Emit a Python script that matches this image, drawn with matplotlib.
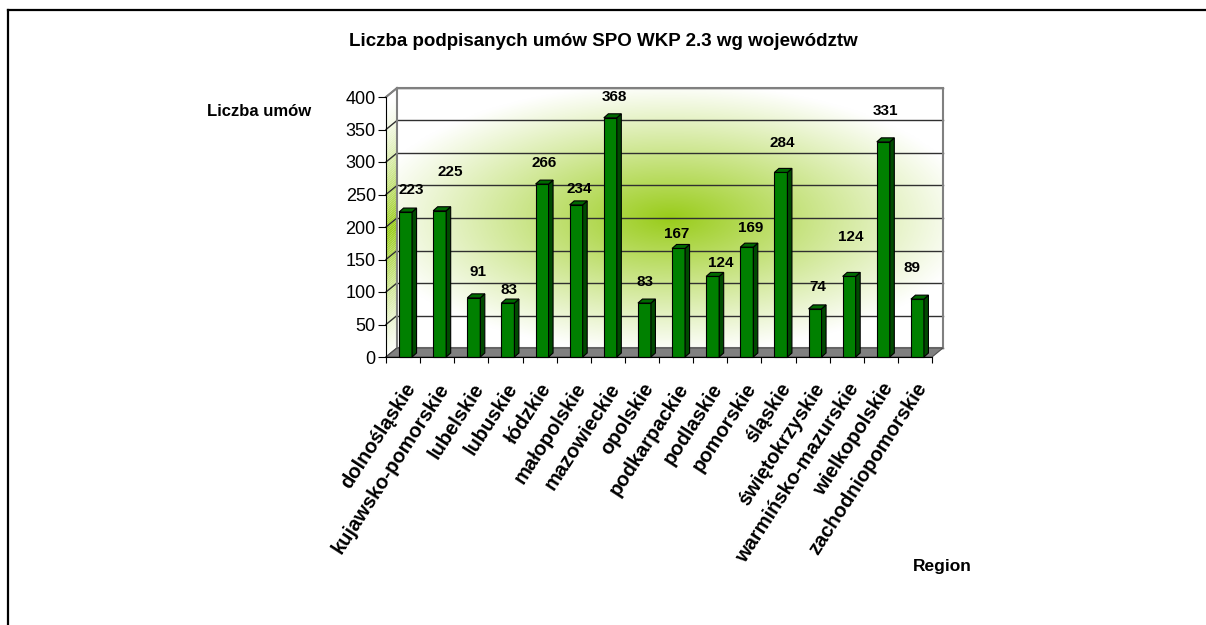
import matplotlib.pyplot as plt
import numpy as np
from matplotlib.patches import Polygon, Rectangle
from matplotlib.lines import Line2D

plt.rcParams['font.family'] = ['Liberation Sans', 'DejaVu Sans']

# data
regions = ["dolnośląskie", "kujawsko-pomorskie", "lubelskie", "lubuskie", "łódzkie",
           "małopolskie", "mazowieckie", "opolskie", "podkarpackie", "podlaskie",
           "pomorskie", "śląskie", "świętokrzyskie", "warmińsko-mazurskie",
           "wielkopolskie", "zachodniopomorskie"]
umowy = [223, 225, 91, 83, 266, 234, 368, 83, 167, 124, 169, 284, 74, 124, 331, 89]
y_ticks = [0, 50, 100, 150, 200, 250, 300, 350, 400]

title = "Liczba podpisanych umów SPO WKP 2.3 wg województw"
y_title = "Liczba umów"
x_title = "Region"

# value label placement (pixels, relative to bar top) - Excel staggers them
label_dx = [6, 11, 4, 1, 2, 3, 4, 1, -2, 8, 4, 1, 3, 2, 2, -5]
label_dy = [22, 39, 26, 13, 21, 16, 21, 21, 14, 13, 19, 29, 22, 39, 31, 31]

W, H = 1206, 625
fig = plt.figure(figsize=(W / 100, H / 100), dpi=100)

# front plane of the 3d box in pixels
left_px, right_px, top_px, bottom_px = 386, 932, 97, 357
ax = fig.add_axes([left_px / W, 1 - bottom_px / H,
                   (right_px - left_px) / W, (bottom_px - top_px) / H])
n = len(regions)
ymax = y_ticks[-1]
x0, x1 = -0.5, n - 0.5
cat_px = (right_px - left_px) / n
unit_px = (bottom_px - top_px) / ymax


def px(dx, dy):
    # pixel offset -> data offset
    return dx / cat_px, dy / unit_px


ddx, ddy = px(11, 9)        # depth of the box
sdx, sdy = px(4.5, 4)       # depth of a bar
bw = 13 / cat_px
shift = 2.5 / cat_px

green = np.array([0.60, 0.80, 0.10])

# back wall gradient
uu, vv = np.meshgrid(np.linspace(0, 1, 400), np.linspace(0, 1, 250))
d = np.sqrt(((uu - 0.5) / 0.56) ** 2 + ((vv - 0.5) / 0.52) ** 2)
t = np.clip(1 - d, 0, 1) ** 1.05
img = 1 - t[..., None] * (1 - green)
ax.imshow(img, extent=[x0 + ddx, x1 + ddx, ddy, ymax + ddy], origin='lower',
          aspect='auto', zorder=0, clip_on=False, interpolation='bilinear')

# left wall gradient, in strips
ys = np.linspace(0, ymax, 120)
for a, b in zip(ys[:-1], ys[1:]):
    tt = max(0, 1 - abs((a + b) / 2 - 190) / 200) ** 1.3
    col = 1 - tt * (1 - green)
    ax.add_patch(Polygon([(x0, a), (x0, b), (x0 + ddx, b + ddy), (x0 + ddx, a + ddy)],
                         fc=col, ec='none', zorder=0.5, clip_on=False))

# gridlines on walls
for v in y_ticks:
    ax.add_line(Line2D([x0 + ddx, x1 + ddx], [v + ddy, v + ddy], color='#303030',
                       lw=1, zorder=1, clip_on=False))
    ax.add_line(Line2D([x0, x0 + ddx], [v, v + ddy], color='#303030',
                       lw=1, zorder=1, clip_on=False))
ax.add_patch(Rectangle((x0 + ddx, ddy), x1 - x0, ymax, fc='none', ec='#808080',
                       lw=1.5, zorder=1.2, clip_on=False))
ax.add_line(Line2D([x0, x0 + ddx], [ymax, ymax + ddy], color='#808080', lw=1.5,
                   zorder=1.2, clip_on=False))

# floor
ax.add_patch(Polygon([(x0, 0), (x1, 0), (x1 + ddx, ddy), (x0 + ddx, ddy)],
                     fc='#808080', ec='#505050', lw=0.8, zorder=1.5, clip_on=False))

# bars
xs = np.arange(n) + shift
ax.bar(xs, umowy, width=bw, color='#008000', edgecolor='black', linewidth=0.8,
       zorder=3, clip_on=False)
for xc, v in zip(xs, umowy):
    xl, xr = xc - bw / 2, xc + bw / 2
    ax.add_patch(Polygon([(xr, 0), (xr + sdx, sdy), (xr + sdx, v + sdy), (xr, v)],
                         fc='#004a00', ec='black', lw=0.8, zorder=3, clip_on=False))
    ax.add_patch(Polygon([(xl, v), (xr, v), (xr + sdx, v + sdy), (xl + sdx, v + sdy)],
                         fc='#006a00', ec='black', lw=0.8, zorder=3, clip_on=False))

for i, (xc, v) in enumerate(zip(xs, umowy)):
    ax.annotate(str(v), xy=(xc, v), xytext=(label_dx[i], label_dy[i]),
                textcoords='offset pixels', ha='center', va='center',
                fontsize=11, fontweight='bold', zorder=4)

# axes
ax.set_xlim(x0, x1)
ax.set_ylim(0, ymax)
ax.set_yticks(y_ticks)
ax.tick_params(axis='y', direction='out', length=5.8, width=0.8, pad=1.5, labelsize=13)
ax.set_xticks(np.arange(n + 1) - 0.5, minor=True)
ax.set_xticks(np.arange(n) + 8 / cat_px, labels=regions)
ax.tick_params(axis='x', which='minor', direction='out', length=4.3, width=0.8)
ax.tick_params(axis='x', which='major', length=0, pad=20, labelsize=14.5)
for lab in ax.get_xticklabels():
    lab.set_rotation(57)
    lab.set_ha('right')
    lab.set_va('center')
    lab.set_rotation_mode('anchor')
    lab.set_fontweight('bold')
for s in ['top', 'right']:
    ax.spines[s].set_visible(False)
ax.spines['left'].set_linewidth(0.8)
ax.spines['bottom'].set_linewidth(0.8)
ax.spines['left'].set_zorder(5)
ax.spines['bottom'].set_zorder(5)
ax.patch.set_visible(False)

# titles
fig.text(603 / W, 1 - 42 / H, title, ha='center', va='center', fontsize=13.5,
         fontweight='bold')
fig.text(259 / W, 1 - 112 / H, y_title, ha='center', va='center', fontsize=12,
         fontweight='bold')
fig.text(942 / W, 1 - 567 / H, x_title, ha='center', va='center', fontsize=12.5,
         fontweight='bold')

# chart border
fig.add_artist(Line2D([8 / W, 1], [1 - 10 / H, 1 - 10 / H], color='black', lw=1.6))
fig.add_artist(Line2D([8 / W, 8 / W], [0, 1 - 10 / H], color='black', lw=1.6))

fig.savefig("out.png", dpi=100)
